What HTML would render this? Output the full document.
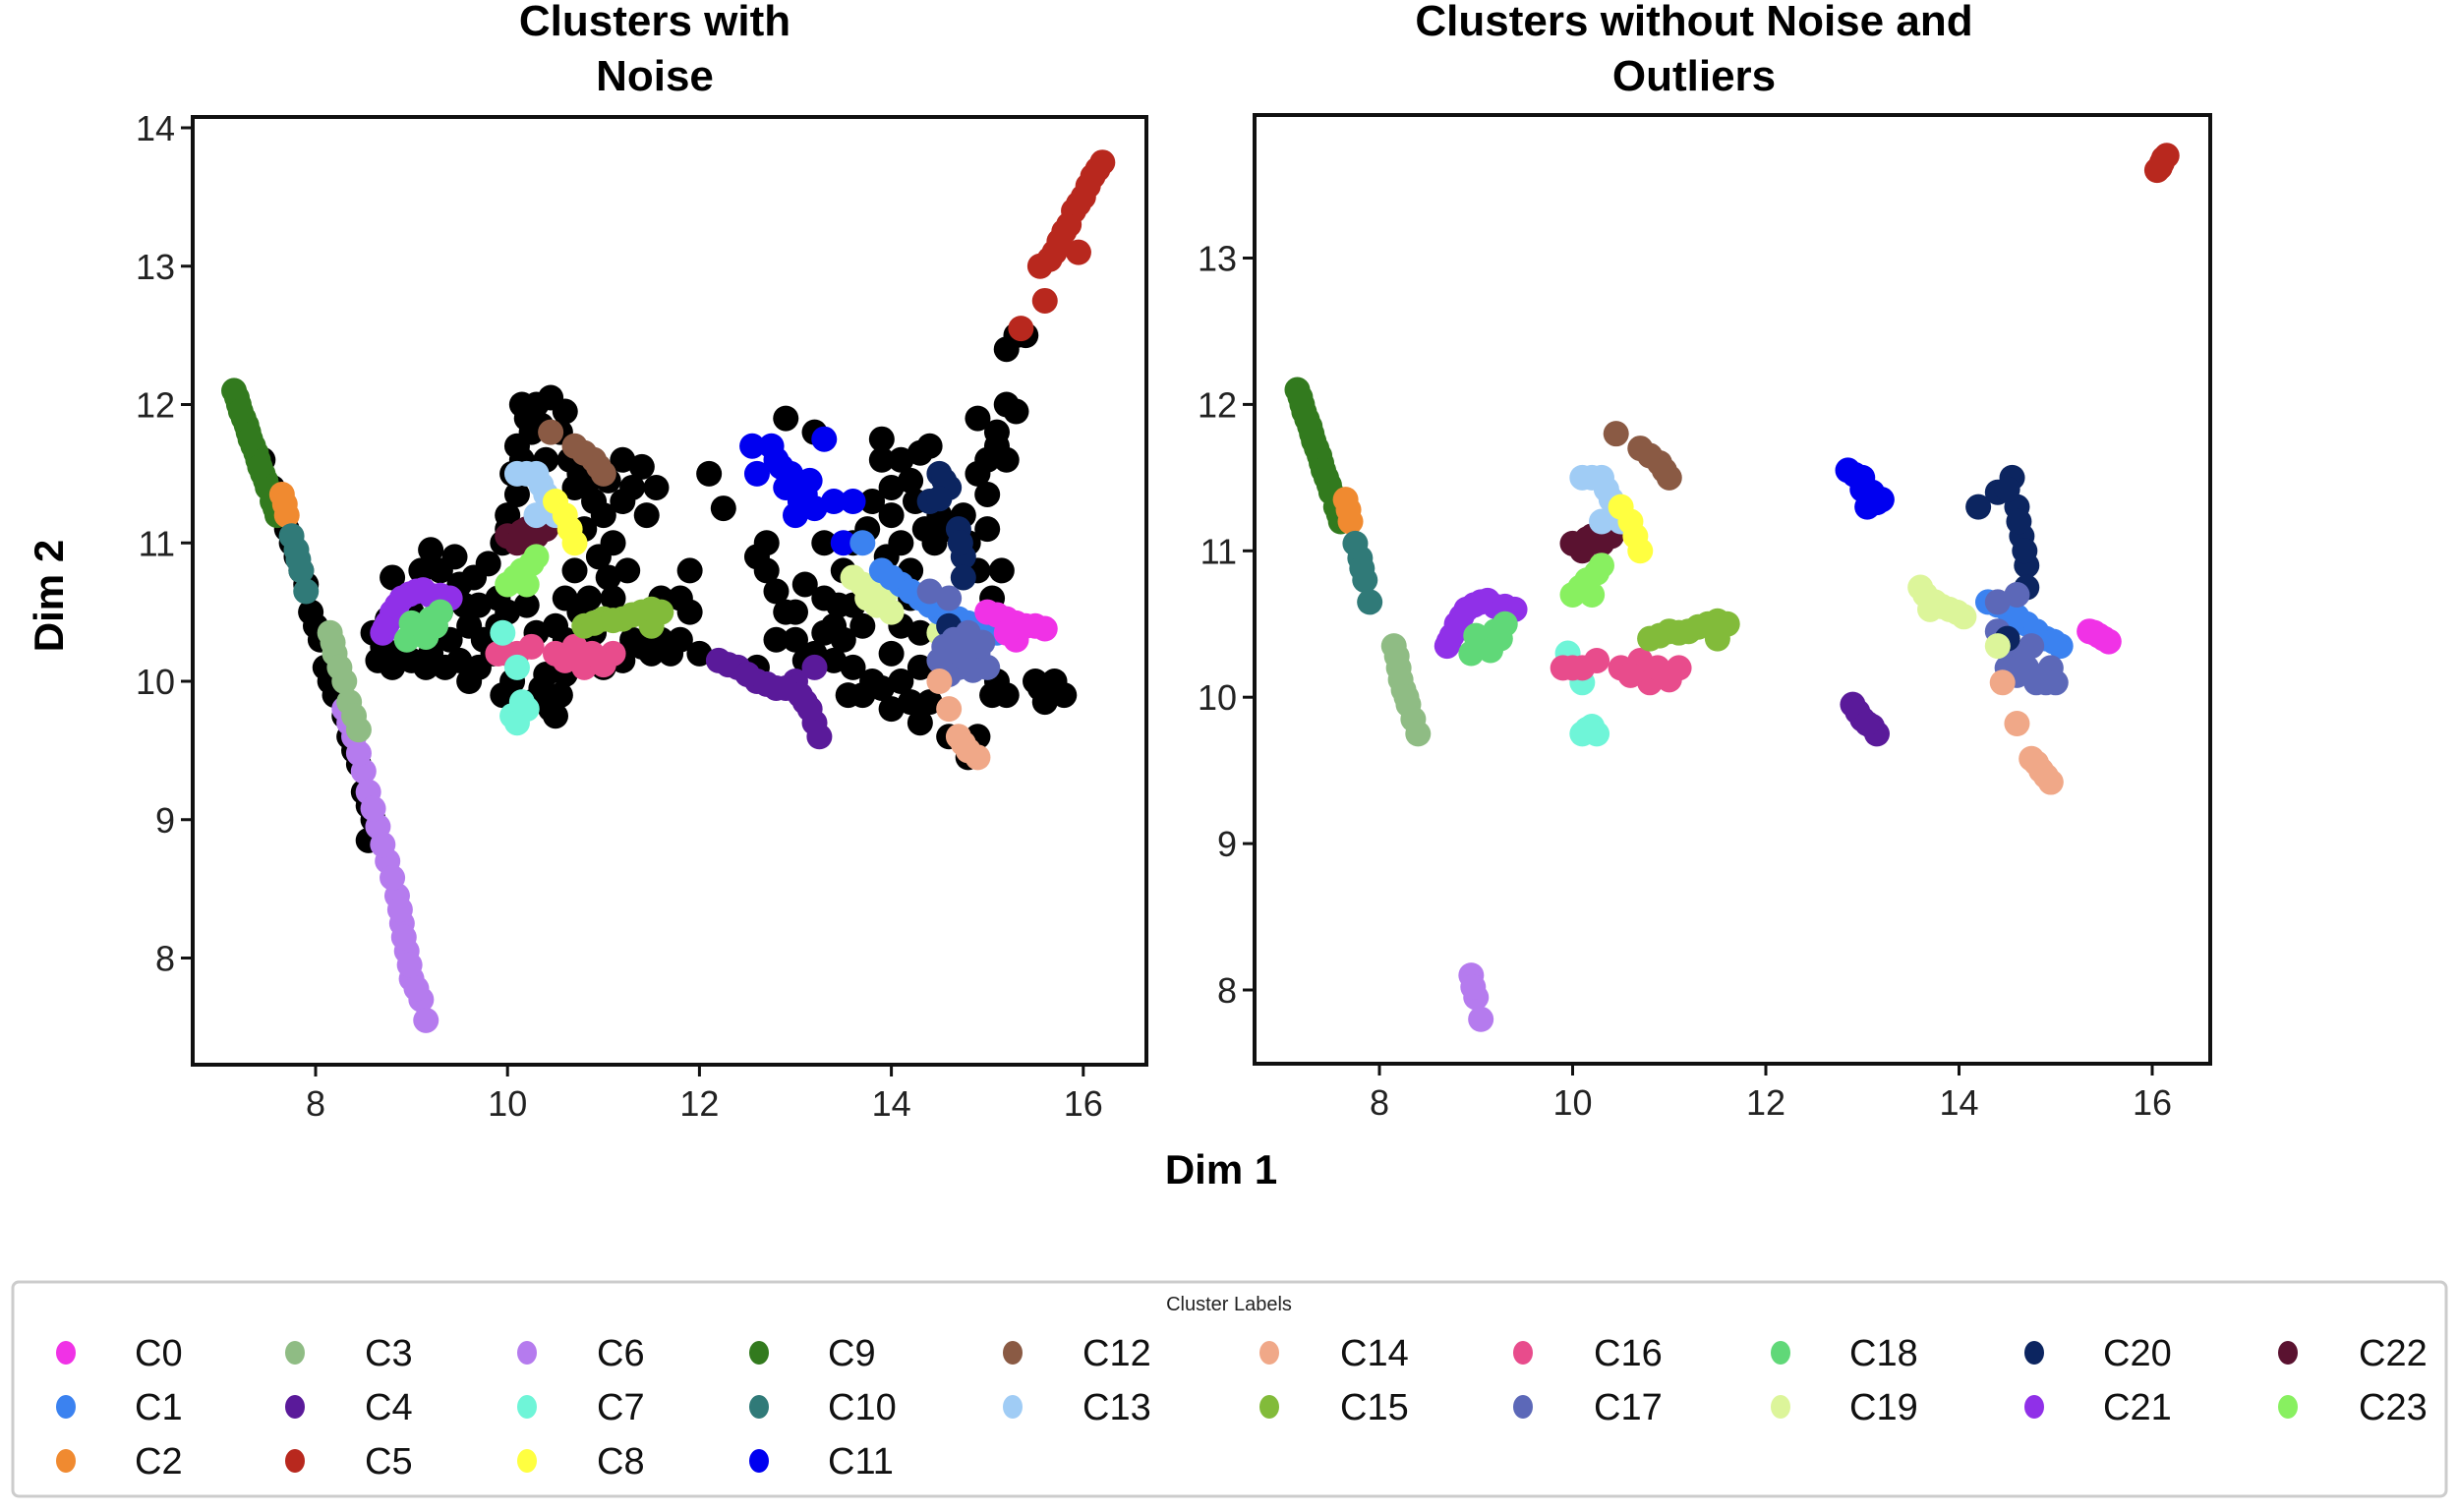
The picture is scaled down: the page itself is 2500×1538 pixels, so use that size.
<!DOCTYPE html>
<html><head><meta charset="utf-8"><style>
body{margin:0;background:#fff;}
svg text{font-family:"Liberation Sans",sans-serif;}
</style></head><body>
<svg id="fig" width="2500" height="1533" xmlns="http://www.w3.org/2000/svg">
<text x="666" y="36" font-size="44" font-weight="bold" text-anchor="middle">Clusters with</text>
<text x="666" y="92" font-size="44" font-weight="bold" text-anchor="middle">Noise</text>
<text x="1723" y="36" font-size="44" font-weight="bold" text-anchor="middle">Clusters without Noise and</text>
<text x="1723" y="92" font-size="44" font-weight="bold" text-anchor="middle">Outliers</text>
<text x="0" y="0" transform="translate(64,606) rotate(-90)" font-size="42" font-weight="bold" text-anchor="middle">Dim 2</text>
<text x="1242" y="1204" font-size="42" font-weight="bold" text-anchor="middle">Dim 1</text>
<g id="left"></g>
<g id="right"></g>
<g id="legend">
<rect x="13" y="1304" width="2475" height="218" rx="6" fill="#fff" stroke="#ccc" stroke-width="3"/>
<text x="1250" y="1333" font-size="20" text-anchor="middle" fill="#222">Cluster Labels</text>
</g>
</svg>
<script>
const clusterNames = ["C0","C1","C2","C3","C4","C5","C6","C7","C8","C9","C10","C11","C12","C13","C14","C15","C16","C17","C18","C19","C20","C21","C22","C23"];
const clusterColors = ["#f032e6","#3b82f0","#f08a30","#8fbc84","#5a1a9a","#b8281e","#b57bee","#6ff5d8","#ffff40","#327a1e","#307a78","#0000f0","#8a5a44","#a0ccf5","#f0a888","#82bb3a","#e84c8c","#5c68b8","#60d878","#dcf59a","#0c2560","#9030e8","#5a1230","#88f060"];
const xTicks = [8,10,12,14,16];
const yTicksLeft = [8,9,10,11,12,13,14];
const yTicksRight = [8,9,10,11,12,13];
const noisePoints = [[7.45,11.6],[7.55,11.4],[7.7,11.1],[7.8,10.9],[7.9,10.7],[7.95,10.5],[8.05,10.3],[8.1,10.1],[8.2,9.9],[8.35,9.6],[8.45,9.4],[8.5,9.2],[8.6,9.0],[8.55,8.85],
[7.6,11.25],[7.75,11.0],[7.85,10.8],[8.0,10.4],[8.15,10.0],[8.3,9.75],[8.4,9.5],[8.55,9.1],
[8.6,10.35],[8.65,10.15],[8.8,10.1],[8.9,10.2],[9.0,10.15],[9.2,10.2],[9.4,10.3],[9.5,10.15],[9.6,10.4],[9.7,10.55],[9.5,10.7],[9.3,10.8],[9.3,10.5],[9.75,10.3],[9.85,10.2],[9.6,10.0],[8.8,10.75],[9.1,10.8],[9.9,10.6],[9.8,10.85],
[8.7,10.25],[8.75,10.45],[9.0,10.5],[9.15,10.1],[9.35,10.1],[9.55,10.55],[9.65,10.75],[9.45,10.9],[9.2,10.95],[9.9,10.4],[9.7,10.1],
[9.95,11.0],[10.0,11.2],[10.05,11.5],[10.1,11.7],[10.2,11.9],[10.3,12.0],[10.45,12.05],[10.6,11.95],[10.15,12.0],[10.4,11.6],[10.7,11.4],[10.8,11.1],[10.9,11.3],[11.0,11.2],[11.1,11.0],[11.2,11.6],[11.4,11.55],[11.55,11.4],[11.2,11.3],[10.6,10.6],[10.5,10.4],[10.3,10.35],[10.7,10.8],[10.85,10.6],[10.9,10.35],[11.1,10.6],[11.3,10.3],[11.6,10.3],[11.8,10.3],[11.9,10.5],[11.5,10.2],[11.2,10.15],[11.0,10.1],[10.4,10.05],[10.25,9.85],[10.5,9.75],[10.55,9.9],[9.95,9.9],[10.05,10.0],[10.1,11.35],[12.1,11.5],[12.25,11.25],[11.9,10.8],[12.0,10.2],
[10.0,11.1],[10.15,11.6],[10.25,11.8],[10.35,11.85],[10.55,11.8],[10.65,11.6],[10.75,11.5],[10.85,11.45],[11.05,11.45],[11.3,11.4],[11.45,11.2],[10.95,10.9],[11.05,10.75],[11.25,10.8],[10.75,10.5],[10.6,10.3],[11.4,10.25],[11.7,10.2],[11.8,10.6],[11.6,10.6],[10.35,9.95],[10.45,9.8],[10.6,10.05],[10.0,10.5],[10.2,10.55],
[12.6,10.9],[12.7,11.0],[12.9,10.5],[12.8,10.3],[13.0,10.5],[13.1,10.7],[13.3,10.6],[13.4,10.4],[13.5,10.3],[13.6,10.1],[13.7,9.9],[13.8,10.0],[13.5,10.8],[13.6,11.0],[13.8,11.3],[13.9,11.6],[14.0,11.2],[14.1,11.0],[14.2,10.8],[13.9,11.75],[14.1,11.6],[14.3,11.65],[14.2,11.45],[14.0,10.2],[14.1,10.0],[14.2,9.85],[14.0,9.8],[14.3,10.1],[14.4,9.85],[13.9,10.6],[13.3,11.0],[13.2,10.2],[12.6,10.1],[14.6,11.1],[14.75,11.2],[14.9,11.5],[15.0,11.6],[15.1,11.7],[15.0,11.35],[14.9,10.8],[15.05,10.6],[15.2,12.0],[15.3,11.95],[15.1,11.8],[14.5,11.2],[15.1,10.0],[15.2,9.9],[15.5,10.0],[15.6,9.85],[15.8,9.9],[15.55,9.95],[14.8,9.45],[14.9,9.6],[15.3,12.5],[15.4,12.5],[13.7,10.4],[12.9,11.9],[14.6,9.6],
[12.7,10.8],[12.8,10.65],[13.0,10.3],[13.1,10.15],[13.3,10.35],[13.45,10.55],[13.6,10.55],[13.4,10.15],[13.55,9.9],[13.9,9.95],[14.1,10.4],[14.2,10.6],[14.3,10.35],[14.0,11.4],[14.25,11.3],[14.35,11.1],[13.75,11.1],[13.95,10.9],[14.45,11.0],[14.8,11.0],[15.0,11.1],[15.2,11.6],[15.15,10.8],[15.05,9.9],[15.7,10.0],[14.3,9.7],[14.9,11.9],[15.2,12.4],[14.4,11.7],[13.2,11.8]];
const rightPoints = [
[9,7.15,12.1],[9,7.2,12.0],[9,7.25,11.9],[9,7.3,11.8],[9,7.35,11.7],[9,7.4,11.6],[9,7.45,11.5],[9,7.5,11.4],[9,7.55,11.3],[9,7.6,11.2],[9,7.18,12.05],[9,7.28,11.85],[9,7.38,11.65],[9,7.48,11.45],[9,7.58,11.25],[9,7.22,11.95],[9,7.32,11.75],[9,7.42,11.55],
[2,7.65,11.35],[2,7.7,11.2],[2,7.68,11.28],
[10,7.75,11.05],[10,7.8,10.95],[10,7.85,10.8],[10,7.9,10.65],[10,7.82,10.88],
[3,8.15,10.35],[3,8.2,10.2],[3,8.25,10.05],[3,8.3,9.95],[3,8.35,9.85],[3,8.4,9.75],[3,8.18,10.28],[3,8.22,10.12],[3,8.28,10.0],
[6,8.95,8.1],[6,9.0,7.95],[6,9.05,7.8],[6,8.97,8.02],
[21,8.7,10.35],[21,8.8,10.5],[21,8.9,10.6],[21,9.05,10.65],[21,9.2,10.62],[21,9.4,10.6],[21,8.75,10.42],[21,8.85,10.55],[21,8.98,10.63],[21,9.12,10.66],[21,9.3,10.62],[21,8.72,10.38],
[18,8.95,10.3],[18,9.1,10.4],[18,9.2,10.45],[18,9.3,10.5],[18,9.05,10.35],[18,9.0,10.42],[18,9.15,10.32],[18,9.25,10.4],
[22,10.0,11.05],[22,10.2,11.1],[22,10.4,11.1],[22,10.1,11.0],[22,10.3,11.05],[22,10.15,11.08],
[13,10.1,11.5],[13,10.3,11.5],[13,10.4,11.35],[13,10.5,11.2],[13,10.3,11.2],[13,10.2,11.5],[13,10.35,11.42],[13,10.45,11.28],
[8,10.5,11.3],[8,10.65,11.1],[8,10.7,11.0],[8,10.6,11.2],
[12,10.45,11.8],[12,10.7,11.7],[12,10.9,11.6],[12,11.0,11.5],[12,10.8,11.65],[12,10.95,11.55],
[23,10.0,10.7],[23,10.15,10.8],[23,10.3,10.9],[23,10.2,10.7],[23,10.08,10.75],[23,10.25,10.85],
[7,9.95,10.3],[7,10.1,10.1],[7,10.1,9.75],[7,10.2,9.8],[7,10.25,9.75],[7,10.15,9.78],
[16,9.9,10.2],[16,10.1,10.2],[16,10.25,10.25],[16,10.5,10.2],[16,10.7,10.25],[16,10.8,10.1],[16,10.95,10.15],[16,11.1,10.2],[16,10.0,10.2],[16,10.6,10.15],[16,10.88,10.2],[16,11.0,10.12],
[15,10.8,10.4],[15,11.0,10.45],[15,11.2,10.45],[15,11.4,10.5],[15,11.6,10.5],[15,11.5,10.4],[15,10.9,10.42],[15,11.1,10.44],[15,11.3,10.48],[15,11.5,10.52],
[11,12.85,11.55],[11,13.0,11.5],[11,13.1,11.4],[11,13.2,11.35],[11,13.05,11.3],[11,12.92,11.52],[11,13.0,11.42],[11,13.15,11.33],
[4,12.9,9.95],[4,13.0,9.85],[4,13.1,9.8],[4,13.15,9.75],[4,12.95,9.9],[4,13.05,9.82],
[19,13.6,10.75],[19,13.75,10.65],[19,13.9,10.6],[19,14.05,10.55],[19,13.7,10.6],[19,13.65,10.7],[19,13.82,10.62],[19,13.98,10.58],
[20,14.2,11.3],[20,14.4,11.4],[20,14.55,11.5],[20,14.6,11.3],[20,14.65,11.1],[20,14.7,10.9],[20,14.7,10.75],[20,14.5,11.42],[20,14.62,11.2],[20,14.68,11.0],
[1,14.3,10.65],[1,14.5,10.6],[1,14.7,10.5],[1,14.9,10.4],[1,15.05,10.35],[1,14.4,10.63],[1,14.6,10.55],[1,14.8,10.45],[1,14.98,10.38],
[17,14.4,10.65],[17,14.6,10.7],[17,14.4,10.45],[17,14.55,10.3],[17,14.7,10.2],[17,14.8,10.1],[17,14.95,10.2],[17,15.0,10.1],[17,14.6,10.15],[17,14.65,10.25],[17,14.75,10.35],[17,14.5,10.2],[17,14.9,10.1],
[20,14.5,10.4],[19,14.4,10.35],
[0,15.35,10.45],[0,15.45,10.42],[0,15.55,10.38],[0,15.4,10.44],[0,15.5,10.4],
[14,14.45,10.1],[14,14.6,9.82],[14,14.75,9.58],[14,14.85,9.5],[14,14.95,9.42],[14,14.8,9.55],[14,14.9,9.46],
[5,16.05,13.6],[5,16.1,13.65],[5,16.15,13.7],[5,16.08,13.62],[5,16.12,13.68]];
const leftOverrideIds = [0,1,3,4,5,6,7,11,14,17,19,20];
const leftOverridePoints = [
[5,15.35,12.55],[5,15.6,12.75],[5,15.55,13.0],[5,15.7,13.1],[5,15.8,13.25],[5,15.9,13.4],[5,16.0,13.5],[5,16.1,13.65],[5,16.2,13.75],[5,15.95,13.1],[5,15.85,13.3],[5,15.75,13.18],[5,15.95,13.45],[5,16.05,13.58],[5,16.15,13.7],[5,15.65,13.05],
[6,8.3,9.8],[6,8.4,9.6],[6,8.5,9.35],[6,8.55,9.2],[6,8.65,8.95],[6,8.75,8.7],[6,8.85,8.45],[6,8.9,8.25],[6,8.95,8.05],[6,9.0,7.85],[6,9.1,7.7],[6,9.15,7.55],[6,8.35,9.7],[6,8.45,9.48],[6,8.6,9.08],[6,8.7,8.82],[6,8.8,8.58],[6,8.88,8.35],[6,8.92,8.15],[6,8.98,7.95],[6,9.05,7.78],
[3,8.15,10.35],[3,8.2,10.2],[3,8.3,10.0],[3,8.35,9.85],[3,8.45,9.65],[3,8.18,10.28],[3,8.25,10.1],[3,8.4,9.75],
[11,12.55,11.7],[11,12.75,11.7],[11,12.85,11.55],[11,12.6,11.5],[11,13.0,11.45],[11,13.1,11.35],[11,13.2,11.25],[11,13.3,11.75],[11,13.4,11.3],[11,13.6,11.3],[11,13.5,11.0],[11,13.0,11.2],[11,12.8,11.6],[11,12.95,11.5],[11,13.05,11.3],[11,12.9,11.4],[11,13.15,11.45],
[4,12.2,10.15],[4,12.4,10.1],[4,12.6,10.0],[4,12.8,9.95],[4,13.0,10.0],[4,13.2,10.1],[4,13.1,9.85],[4,13.2,9.7],[4,13.25,9.6],[4,12.3,10.12],[4,12.5,10.05],[4,12.7,9.98],[4,12.9,9.95],[4,13.05,9.9],[4,13.15,9.8],
[19,13.6,10.75],[19,13.8,10.65],[19,13.9,10.6],[19,14.0,10.5],[19,14.5,10.35],[19,13.7,10.7],[19,13.85,10.55],[19,13.95,10.65],[19,13.75,10.6],
[1,13.7,11.0],[1,13.9,10.8],[1,14.1,10.7],[1,14.3,10.6],[1,14.5,10.5],[1,14.7,10.45],[1,14.9,10.4],[1,15.1,10.35],[1,14.0,10.75],[1,14.2,10.65],[1,14.4,10.55],[1,14.6,10.48],[1,14.8,10.42],[1,15.0,10.37],
[0,15.0,10.5],[0,15.2,10.45],[0,15.4,10.4],[0,15.6,10.38],[0,15.3,10.3],[0,15.1,10.48],[0,15.3,10.42],[0,15.5,10.4],[0,15.2,10.35],
[20,14.5,11.5],[20,14.6,11.4],[20,14.4,11.3],[20,14.7,11.1],[20,14.75,10.9],[20,14.75,10.75],[20,14.6,10.4],[20,14.55,11.45],[20,14.5,11.32],[20,14.72,11.0],
[17,14.4,10.65],[17,14.6,10.6],[17,14.55,10.25],[17,14.7,10.1],[17,14.9,10.2],[17,15.0,10.1],[17,14.6,10.05],[17,14.8,10.35],[17,14.65,10.3],[17,14.75,10.18],[17,14.5,10.15],[17,14.85,10.08],[17,14.95,10.28],
[14,14.5,10.0],[14,14.6,9.8],[14,14.75,9.55],[14,14.9,9.45],[14,14.8,9.5],[14,14.7,9.6],
[7,9.95,10.35],[7,10.1,10.1],[7,10.05,9.75],[7,10.2,9.8],[7,10.1,9.7],[7,10.15,9.85]];

const NS="http://www.w3.org/2000/svg";
function mk(tag,attrs,parent){const e=document.createElementNS(NS,tag);for(const k in attrs)e.setAttribute(k,attrs[k]);parent.appendChild(e);return e;}

function panel(g,box,xs,ys,yTicks,points,noise,prefix){
  const sx=v=>xs.p0+(v-xs.v0)*xs.k, sy=v=>ys.p0-(v-ys.v0)*ys.k;
  const clip=mk('clipPath',{id:prefix+'clip'},g);
  mk('rect',{x:box.x,y:box.y,width:box.w,height:box.h},clip);
  const dots=mk('g',{'clip-path':'url(#'+prefix+'clip)'},g);
  noise.forEach(p=>{const c=mk('circle',{cx:sx(p[0]),cy:sy(p[1]),r:13,fill:'#000'},dots);
    
    });
  points.forEach(p=>{const c=mk('circle',{cx:sx(p[1]),cy:sy(p[2]),r:13,fill:clusterColors[p[0]]},dots);
    
    });
  const fr=mk('rect',{x:box.x,y:box.y,width:box.w,height:box.h,fill:'none',stroke:'#111','stroke-width':4},g);
  
  
  xTicks.forEach(t=>{const x=sx(t);
    mk('line',{x1:x,x2:x,y1:box.y+box.h,y2:box.y+box.h+12,stroke:'#111','stroke-width':3},g);
    const tx=mk('text',{x:x,y:box.y+box.h+52,'font-size':36,'text-anchor':'middle',fill:'#222'},g);tx.textContent=t;
    
    });
  yTicks.forEach(t=>{const y=sy(t);
    mk('line',{x1:box.x-12,x2:box.x,y1:y,y2:y,stroke:'#111','stroke-width':3},g);
    const tx=mk('text',{x:box.x-18,y:y+13,'font-size':36,'text-anchor':'end',fill:'#222'},g);tx.textContent=t;
    
    });
}
const leftPts = rightPoints.filter(p=>leftOverrideIds.indexOf(p[0])<0).concat(leftOverridePoints);
panel(document.getElementById('left'),{x:196,y:119,w:970,h:964},{p0:321,v0:8,k:97.6},{p0:974.5,v0:8,k:140.75},yTicksLeft,leftPts,noisePoints,'left');
panel(document.getElementById('right'),{x:1276,y:117,w:972,h:965},{p0:1403,v0:8,k:98.25},{p0:1007,v0:8,k:148.9},yTicksRight,rightPoints,[],'right');

const lg=document.getElementById('legend');
const colMarker=[67,300,536,772,1030,1291,1549,1811,2069,2327];
const colText=[137,371,607,842,1101,1363,1621,1881,2139,2399];
const rowY=[1376,1431,1486];
clusterNames.forEach((n,i)=>{
  let c,r;
  if(i<12){c=Math.floor(i/3);r=i%3;}else{c=4+Math.floor((i-12)/2);r=(i-12)%2;}
  const g=mk('g',{},lg);
  
  
  mk('ellipse',{cx:colMarker[c],cy:rowY[r],rx:10,ry:12,fill:clusterColors[i]},g);
  const t=mk('text',{x:colText[c],y:rowY[r]+13,'font-size':38,fill:'#111'},g);t.textContent=n;
});
</script>
</body></html>
